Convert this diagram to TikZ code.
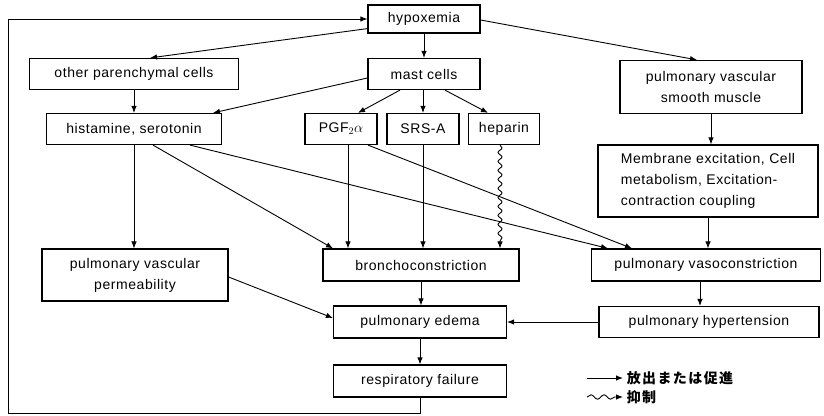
\documentclass[tikz,border=0pt]{standalone}
\usepackage{fontspec}
\setmainfont[LetterSpace=4]{Liberation Sans}
\newfontfamily\jpfont[LetterSpace=10]{Noto Sans CJK JP}
\usepackage{tikz}
\usetikzlibrary{arrows.meta,decorations.pathmorphing,calc}

\begin{document}
\begin{tikzpicture}[x=1pt, y=-1pt,
  box/.style={rectangle, draw=black, line width=1.2pt, inner sep=0pt, minimum height=31pt,
    font=\fontsize{14}{21}\selectfont, align=center},
  arr/.style={line width=0.9pt, -{Latex[length=7pt,width=5.5pt]}},
  wavy/.style={arr, decorate, decoration={snake, amplitude=2pt, segment length=9pt, post length=7pt}}]

\useasboundingbox (0,0) rectangle (824,415);

% top row
\node[box, minimum width=112pt, minimum height=28pt] (hyp) at (424,19) {hypoxemia};
\node[box, minimum width=209pt] (other) at (134,74) {other parenchymal cells};
\node[box, minimum width=112pt] (mast) at (424,74) {mast cells};
\node[box, minimum width=182pt, minimum height=53pt] (smooth) at (711,87) {pulmonary vascular\\smooth muscle};

% mediators
\node[box, minimum width=175pt] (hist) at (134,129) {histamine, serotonin};
\node[box, minimum width=72pt] (pgf) at (341,129) {PGF$_{2}\alpha$};
\node[box, minimum width=72pt] (srs) at (423,129) {SRS-A};
\node[box, minimum width=71pt] (hep) at (504,129) {heparin};
\node[box, minimum width=220pt, minimum height=72pt, align=left] (memb) at (708,181) {Membrane excitation, Cell\\metabolism, Excitation-\\contraction coupling};

% effects
\node[box, minimum width=186pt, minimum height=52pt] (perm) at (135,275) {pulmonary vascular\\permeability};
\node[box, minimum width=196pt, minimum height=32pt] (broncho) at (421,265) {bronchoconstriction};
\node[box, minimum width=229pt, minimum height=32pt] (vaso) at (706,265) {pulmonary vasoconstriction};
\node[box, minimum width=173pt, minimum height=32pt] (edema) at (420,322) {pulmonary edema};
\node[box, minimum width=220pt] (hyper) at (709,322) {pulmonary hypertension};
\node[box, minimum width=173pt, minimum height=32pt] (resp) at (420,381) {respiratory failure};

% arrows from hypoxemia
\draw[arr] ([yshift=5pt]hyp.south west) -- ([xshift=16pt]other.north);
\draw[arr] (hyp.south) -- (mast.north);
\draw[arr] ([yshift=-1pt]hyp.east) -- ([xshift=-14pt]smooth.north);

% release
\draw[arr] (other.south) -- (hist.north);
\draw[arr] ([yshift=-4pt]mast.west) -- ([xshift=79pt]hist.north);
\draw[arr] ([xshift=-24pt]mast.south) -- ([xshift=17pt]pgf.north);
\draw[arr] ([xshift=-1pt]mast.south) -- (srs.north);
\draw[arr] ([xshift=21pt]mast.south) -- ([xshift=-16pt]hep.north);
\draw[arr] (smooth.south) -- ([xshift=3pt]memb.north);
\draw[arr] (memb.south) -- ([xshift=2pt]vaso.north);

% mediators to effects
\draw[arr, line width=0.7pt] (hist.south) -- ([xshift=-1pt]perm.north);
\draw[arr] ([xshift=19pt]hist.south) -- ([xshift=-88pt]broncho.north);
\draw[arr] ([xshift=56pt]hist.south) -- ([xshift=-98pt]vaso.north);
\draw[arr] ([xshift=7pt]pgf.south) -- ([xshift=-73pt]broncho.north);
\draw[arr] ([xshift=27pt]pgf.south) -- ([xshift=-74pt]vaso.north);
\draw[arr] (srs.south) -- ([xshift=2pt]broncho.north);
\draw[wavy] ([xshift=-4pt]hep.south) -- ([xshift=79pt]broncho.north);

% to edema and failure
\draw[arr] (broncho.south) -- ([xshift=1pt]edema.north);
\draw[arr] ([yshift=-2pt]perm.east) -- ([yshift=4pt]edema.west);
\draw[arr] ([xshift=-6pt]vaso.south) -- ([xshift=-9pt]hyper.north);
\draw[arr] (hyper.west) -- (edema.east);
\draw[arr] (edema.south) -- (resp.north);

% feedback loop
\coordinate (lo) at (8,413);
\draw[arr] (resp.south) |- (lo) |- (hyp.west);

% legend
\coordinate (lg1) at (587,378);
\coordinate (lg2) at (587,397);
\draw[arr] (lg1) -- ++(36,0) node[right, font=\jpfont\bfseries\fontsize{14}{16}\selectfont] (lgt1) {放出または促進};
\draw[wavy, decoration={snake, amplitude=2.2pt, segment length=13pt, post length=7pt}] (lg2) -- ++(36,0) node[right, font=\jpfont\bfseries\fontsize{14}{16}\selectfont] (lgt2) {抑制};

\end{tikzpicture}
\end{document}
